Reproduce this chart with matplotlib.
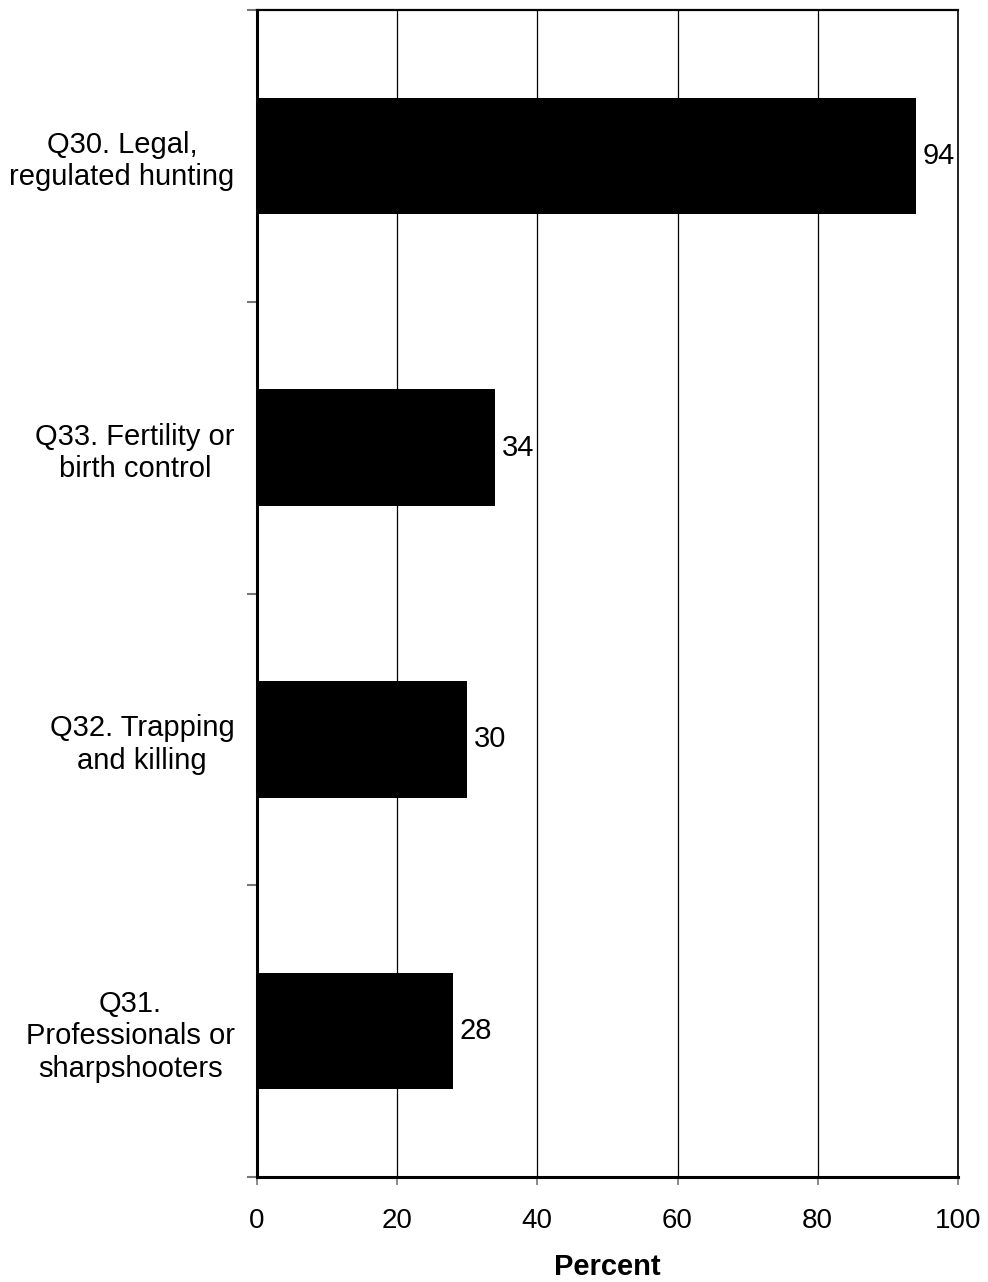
import numpy as np
import matplotlib.pyplot as plt
from matplotlib.ticker import FixedLocator

plt.rcParams['font.family'] = ['Liberation Sans', 'DejaVu Sans']

categories = ["Q30. Legal,\nregulated hunting",
              "Q33. Fertility or\nbirth control",
              "Q32. Trapping\nand killing",
              "Q31.\nProfessionals or\nsharpshooters"]
percents = [94, 34, 30, 28]
xticks = [0, 20, 40, 60, 80, 100]

fig = plt.figure(figsize=(9.88, 12.82), dpi=100)
ax = fig.add_axes([0.260, 0.0819, 0.7096, 0.9103])

ypos = np.arange(len(categories))
ax.barh(ypos, percents, height=0.4, color='black', zorder=3)
for y, v in zip(ypos, percents):
    ax.text(v + 0.9, y, str(v), va='center', ha='left', fontsize=21, zorder=4)

ax.set_xlim(0, 100)
ax.set_ylim(len(categories) - 0.5, -0.5)
ax.set_xticks(xticks)
ax.set_xticklabels([str(t) for t in xticks], fontsize=20)
ax.xaxis.grid(True, color='black', linewidth=0.9, zorder=0)
ax.tick_params(axis='x', length=6, width=1.2, color='#777777', pad=16)

# category boundaries as major ticks, labels on minor ticks
ax.yaxis.set_major_locator(FixedLocator(np.arange(-0.5, len(categories), 1.0)))
ax.yaxis.set_minor_locator(FixedLocator(ypos))
ax.set_yticklabels([], minor=False)
ax.set_yticklabels(categories, minor=True, fontsize=21, ha='right', multialignment='center')
ax.tick_params(axis='y', which='major', length=7, width=1.5, color='#777777')
ax.tick_params(axis='y', which='minor', length=0, pad=16)

ax.spines['left'].set_linewidth(2.2)
ax.spines['bottom'].set_linewidth(2.2)
ax.spines['top'].set_linewidth(1.6)
ax.spines['right'].set_linewidth(1.2)

ax.set_xlabel('Percent', fontsize=21, fontweight='bold', labelpad=14)

plt.savefig('out.png', dpi=100)
